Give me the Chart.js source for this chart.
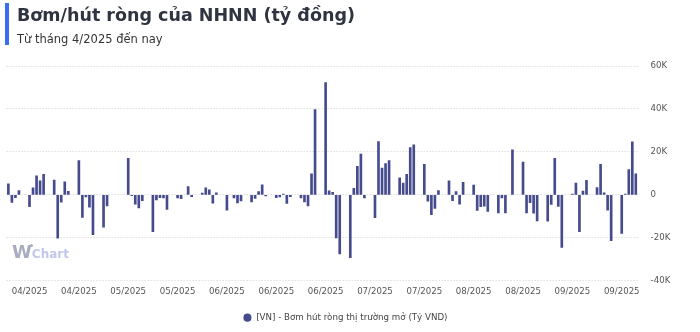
<!DOCTYPE html>
<html lang="vi">
<head>
<meta charset="utf-8">
<title>Bơm/hút ròng của NHNN</title>
<script src="https://cdn.jsdelivr.net/npm/chart.js@4.4.1/dist/chart.umd.min.js"></script>
<style>
  html, body { margin: 0; padding: 0; background: #fff; }
  #wrap { position: relative; width: 700px; height: 332px; overflow: hidden; font-family: 'DejaVu Sans', sans-serif; }
  #chart { position: absolute; left: 0; top: 0; }
  .accent { position: absolute; left: 5px; top: 3px; width: 4px; height: 42px; background: #3a6cf0; }
  .title { position: absolute; left: 17px; top: 3.6px; font-size: 17.5px; line-height: 22px; font-weight: bold; color: #2f3440; white-space: nowrap; }
  .subtitle { position: absolute; left: 17px; top: 32.3px; font-size: 11.5px; line-height: 14px; color: #333; white-space: nowrap; }
  .brand { position: absolute; left: 12px; top: 241px; font-weight: bold; white-space: nowrap; }
  .brand .w { font-size: 18px; color: #a9acc0; }
  .brand .c { font-size: 12px; color: #c3c7ea; }
  .brand .dot { position: absolute; left: 17.5px; top: 3px; width: 3px; height: 3px; border-radius: 50%; background: #a9acc0; }
</style>
</head>
<body>
<div id="wrap">
  <canvas id="chart" width="700" height="332"></canvas>
  <div class="accent"></div>
  <div class="title">Bơm/hút ròng của NHNN (tỷ đồng)</div>
  <div class="subtitle">Từ tháng 4/2025 đến nay</div>
  <div class="brand"><span class="w">W</span><span class="c">Chart</span><span class="dot"></span></div>
</div>
<script>
'use strict';

// ─── Data: net OMO injection (+) / withdrawal (−), tỷ đồng per trading day ───
const tradeDays = [
  '2025-04-01','2025-04-02','2025-04-03','2025-04-04','2025-04-07','2025-04-08','2025-04-09','2025-04-10','2025-04-11',
  '2025-04-14','2025-04-15','2025-04-16','2025-04-17','2025-04-18','2025-04-21','2025-04-22','2025-04-23','2025-04-24',
  '2025-04-25','2025-04-28','2025-04-29',
  '2025-05-05','2025-05-06','2025-05-07','2025-05-08','2025-05-09','2025-05-12','2025-05-13','2025-05-14','2025-05-15',
  '2025-05-16','2025-05-19','2025-05-20','2025-05-22','2025-05-23','2025-05-26','2025-05-27','2025-05-28','2025-05-29',
  '2025-05-30',
  '2025-06-02','2025-06-04','2025-06-05','2025-06-06','2025-06-09','2025-06-10','2025-06-11','2025-06-12','2025-06-13',
  '2025-06-16','2025-06-17','2025-06-18','2025-06-19','2025-06-20','2025-06-23','2025-06-24','2025-06-25','2025-06-26',
  '2025-06-27','2025-06-30',
  '2025-07-01','2025-07-02','2025-07-03','2025-07-04','2025-07-07','2025-07-08','2025-07-09','2025-07-10','2025-07-11',
  '2025-07-14','2025-07-15','2025-07-16','2025-07-17','2025-07-18','2025-07-21','2025-07-22','2025-07-23','2025-07-24',
  '2025-07-25','2025-07-28','2025-07-29','2025-07-30','2025-07-31',
  '2025-08-01','2025-08-04','2025-08-05','2025-08-06','2025-08-07','2025-08-08','2025-08-11','2025-08-12','2025-08-13',
  '2025-08-14','2025-08-15','2025-08-18','2025-08-19','2025-08-20','2025-08-22','2025-08-25','2025-08-26','2025-08-27',
  '2025-08-28','2025-08-29',
  '2025-09-01','2025-09-02','2025-09-03','2025-09-04','2025-09-05','2025-09-08','2025-09-09','2025-09-10','2025-09-11',
  '2025-09-12','2025-09-15','2025-09-16','2025-09-17','2025-09-18','2025-09-19','2025-09-22','2025-09-23','2025-09-24',
  '2025-09-25','2025-09-26',
];

const netFlow = [
  5100, -3500, -1300, 2000, -5500, 3300, 8900, 6500, 9500,
  6900, -20200, -3400, 6000, 1600, 16000, -10500, -1000, -5800,
  -18600, -15100, -5200,
  17000, -400, -4300, -6100, -2700, -17200, -2400, -1300, -1500,
  -6800, -1500, -1800, 3800, -900, 800, 3300, 2300, -3900,
  900,
  -7100, -1500, -3800, -2800, -3300, -1700, 1500, 4700, -500,
  -1300, -1000, 300, -4000, -900, -1500, -3300, -5200, 9800,
  39700, 52300,
  1900, 1200, -20100, -27500, -29300, 3000, 13300, 19000, -1500,
  -10700, 24800, 12500, 14500, 16000, 7900, 5500, 9500, 22000,
  23300, 14200, -3000, -9200, -6300,
  2000, 6500, -2700, 1500, -4400, 5800, 4500, -7300, -5500,
  -5300, -7700, -8400, -1400, -8400, 21000, 15200, -8400, -3700,
  -8500, -12200,
  -12300, -4500, 17000, -5400, -24500, 300, 5500, -17200, 1700,
  6800, 3400, 14200, 900, -7100, -21300, -18000, 300, 11800,
  24700, 9800,
];

// Dates that carry an x-axis label (every second Monday)
const tickDays = [
  '2025-04-07','2025-04-21','2025-05-05','2025-05-19','2025-06-02','2025-06-16','2025-06-30',
  '2025-07-14','2025-07-28','2025-08-11','2025-08-25','2025-09-08','2025-09-22',
];
const yTicks = [-40000, -20000, 0, 20000, 40000, 60000];

const seriesLabel = '[VN] - Bơm hút ròng thị trường mở (Tỷ VND)';
const barColor = '#464b8e';

// ─── Calendar axis: one slot per day, non-trading days stay empty ───────────
const calendar = [];
const lastDay = Date.parse(tradeDays[tradeDays.length - 1]);
for (let t = Date.parse(tradeDays[0]); t <= lastDay; t += 86400000) {
  calendar.push(new Date(t).toISOString().slice(0, 10));
}
const flowByDay = {};
tradeDays.forEach((d, i) => { flowByDay[d] = netFlow[i]; });
const series = calendar.map(d => (d in flowByDay ? flowByDay[d] : null));

const tickFont = { family: 'DejaVu Sans', size: 8.6 };

new Chart(document.getElementById('chart'), {
  type: 'bar',
  data: {
    labels: calendar,
    datasets: [{
      label:           seriesLabel,
      data:            series,
      backgroundColor: barColor,
      borderWidth:     0,
      barThickness:    2,
    }],
  },
  options: {
    responsive: false,
    animation:  false,
    layout: { padding: { top: 66, left: 6.6, right: 16, bottom: 0 } },
    plugins: {
      tooltip: { enabled: false },
      legend: {
        position: 'bottom',
        labels: {
          usePointStyle: true,
          pointStyle:    'circle',
          boxWidth:      8.7,
          boxHeight:     5.7,
          padding:       9,
          color:         '#444',
          font:          { family: 'DejaVu Sans', size: 8.7 },
        },
      },
    },
    scales: {
      x: {
        grid:   { display: false, drawTicks: false },
        border: { display: false },
        ticks:  {
          autoSkip:    false,
          maxRotation: 0,
          padding:     6,
          color:       '#555',
          font:        tickFont,
          callback: (val, i) => {
            const d = calendar[i];
            return tickDays.includes(d) ? d.slice(5, 7) + '/' + d.slice(0, 4) : '';
          },
        },
        afterFit: (s) => { s.height = 23.6; },
      },
      y: {
        position: 'right',
        min: yTicks[0],
        max: yTicks[yTicks.length - 1],
        grid:   { color: '#cfcfcf', drawTicks: false },
        border: { display: false, dash: [1, 2] },
        ticks:  {
          padding: 13,
          color:   '#555',
          font:    tickFont,
          callback: (v) => (v === 0 ? '0' : (v / 1000) + 'K'),
        },
        afterBuildTicks: (s) => { s.ticks = yTicks.map(v => ({ value: v })); },
        afterFit: (s) => { s.width = 46.4; },
      },
    },
  },
});
</script>
</body>
</html>
